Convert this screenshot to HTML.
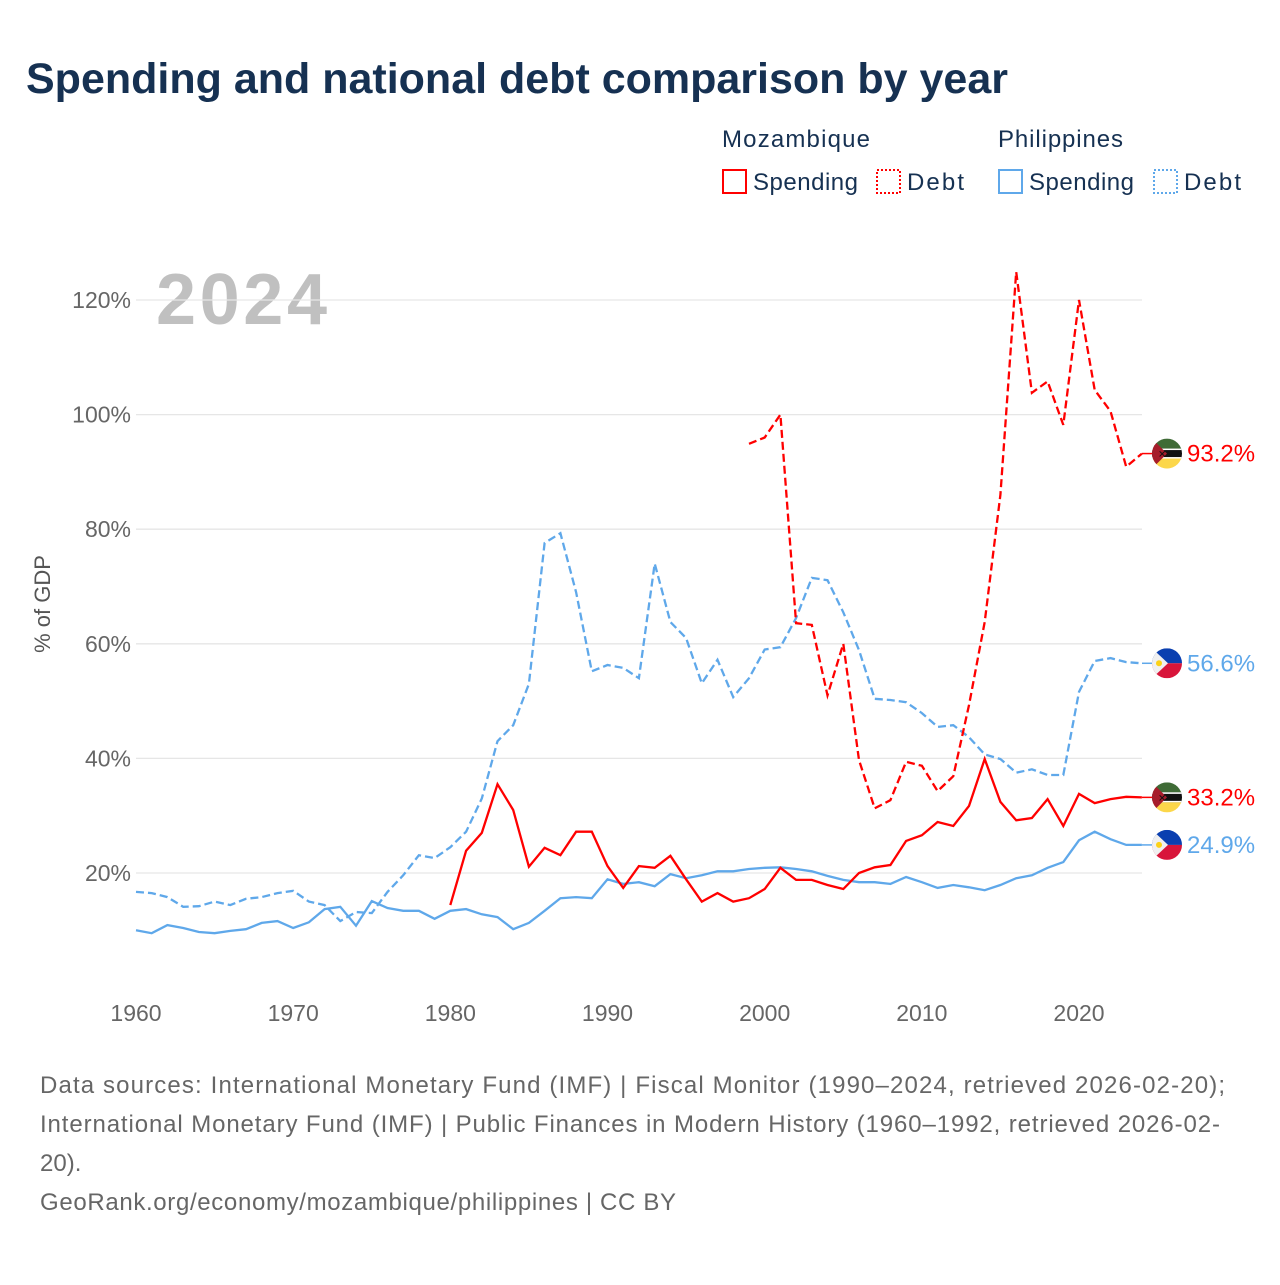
<!DOCTYPE html>
<html><head><meta charset="utf-8"><style>
body{margin:0;background:#fff;width:1280px;height:1280px;overflow:hidden;font-family:"Liberation Sans",sans-serif}
</style></head><body>
<svg id="chart" width="1280" height="1280" xmlns="http://www.w3.org/2000/svg" font-family="Liberation Sans, sans-serif">
<text x="26" y="93" font-size="43" font-weight="bold" fill="#163152">Spending and national debt comparison by year</text>
<g font-size="24" fill="#163152">
<text x="722" y="147" textLength="148">Mozambique</text>
<text x="998" y="147" textLength="125">Philippines</text>
<g><rect x="723" y="170" width="23" height="23" fill="none" stroke="#ff0000" stroke-width="2"/><text x="753" y="190" textLength="105">Spending</text></g>
<g><rect x="877" y="170" width="23" height="23" fill="none" stroke="#ff0000" stroke-width="2" stroke-dasharray="2,2"/><text x="907" y="190" textLength="57">Debt</text></g>
<g><rect x="999" y="170" width="23" height="23" fill="none" stroke="#5fa8ea" stroke-width="2"/><text x="1029" y="190" textLength="105">Spending</text></g>
<g><rect x="1154" y="170" width="23" height="23" fill="none" stroke="#5fa8ea" stroke-width="2" stroke-dasharray="2,2"/><text x="1184" y="190" textLength="57">Debt</text></g>
</g>
<text x="156" y="324" font-size="72" font-weight="bold" fill="#c0c0c0" textLength="171">2024</text>
<g id="grid"></g><g id="yticks"></g><g id="xticks"></g><g id="lines"></g><g id="ends"></g>
<text transform="translate(50,604) rotate(-90)" text-anchor="middle" font-size="22" fill="#555">% of GDP</text>
<g font-size="24" fill="#666">
<text x="40" y="1093" textLength="1185">Data sources: International Monetary Fund (IMF) | Fiscal Monitor (1990–2024, retrieved 2026-02-20);</text>
<text x="40" y="1132" textLength="1180">International Monetary Fund (IMF) | Public Finances in Modern History (1960–1992, retrieved 2026-02-</text>
<text x="40" y="1171">20).</text>
<text x="40" y="1210" textLength="636">GeoRank.org/economy/mozambique/philippines | CC BY</text>
</g>
</svg>
<script>
const phDebtStart=1960;
const phDebt=[16.7,16.5,15.8,14.1,14.2,15,14.4,15.5,15.8,16.5,16.9,15,14.4,11.6,13.2,13,16.7,19.6,23.1,22.6,24.5,27.2,33,43,45.8,53,77.6,79.3,69,55.2,56.3,55.8,54,74,63.8,61,53.1,57.2,50.7,54,59,59.4,64.5,71.5,71.1,65.5,58.9,50.4,50.2,49.8,47.9,45.5,45.8,43.7,40.7,39.9,37.5,38.1,37.1,37.1,51.6,57,57.5,56.8,56.6];
const phSpendStart=1960;
const phSpend=[10,9.5,10.9,10.4,9.7,9.5,9.9,10.2,11.3,11.6,10.4,11.4,13.7,14.1,10.8,15.1,13.9,13.4,13.4,12,13.4,13.7,12.8,12.3,10.2,11.3,13.4,15.6,15.8,15.6,18.9,18.1,18.4,17.7,19.8,19.1,19.6,20.3,20.3,20.7,20.9,21,20.7,20.3,19.5,18.8,18.4,18.4,18.1,19.3,18.4,17.4,17.9,17.5,17,17.9,19.1,19.6,20.9,21.9,25.7,27.2,25.9,24.9,24.9];
const mzSpendStart=1980;
const mzSpend=[14.4,23.9,27,35.5,31,21.1,24.4,23.1,27.2,27.2,21.2,17.4,21.2,20.9,23,18.9,15,16.5,15,15.6,17.2,20.9,18.8,18.8,17.9,17.2,20,21,21.4,25.6,26.6,28.9,28.2,31.7,39.9,32.4,29.2,29.6,32.9,28.2,33.8,32.2,32.9,33.3,33.2];
const mzDebtStart=1999;
const mzDebt=[94.9,96,100,63.6,63.3,51,60,39.7,31.3,32.7,39.4,38.7,34.3,36.9,49.3,63.8,86,124.9,103.8,105.8,98.2,120,104.3,100.6,90.9,93.2];
const yTicks=[20,40,60,80,100,120];
const xTicks=[1960,1970,1980,1990,2000,2010,2020];
const NS='http://www.w3.org/2000/svg';
const X=y=>136+(y-1960)*15.717;
const Y=v=>987.6-v*5.73;
function mk(tag,attrs,parent){const e=document.createElementNS(NS,tag);for(const k in attrs)e.setAttribute(k,attrs[k]);document.getElementById(parent).appendChild(e);return e;}
yTicks.forEach(t=>{
 const l=mk('line',{x1:136,x2:1142,y1:Y(t),y2:Y(t),stroke:'#e6e6e6','stroke-width':1.3},'grid');
 
 
 const tx=mk('text',{x:131,y:Y(t)+8,'text-anchor':'end','font-size':23,fill:'#666'},'yticks');
 tx.textContent=t+'%';
 
 
});
xTicks.forEach(t=>{
 const tx=mk('text',{x:X(t),y:1021,'text-anchor':'middle','font-size':23,fill:'#666'},'xticks');
 tx.textContent=t;
 
 
});
function series(arr,start,color,dash,name){
 const pts=arr.map((v,i)=>X(start+i).toFixed(1)+','+Y(v).toFixed(1)).join(' ');
 const p=mk('polyline',{points:pts,fill:'none',stroke:color,'stroke-width':2.3,'stroke-linejoin':'miter'},'lines');
 if(dash)p.setAttribute('stroke-dasharray','8,4');
 
 
}
series(phSpend,phSpendStart,'#5fa8ea',false,'line-philippines-spending');
series(phDebt,phDebtStart,'#5fa8ea',true,'line-philippines-debt');
series(mzSpend,mzSpendStart,'#ff0000',false,'line-mozambique-spending');
series(mzDebt,mzDebtStart,'#ff0000',true,'line-mozambique-debt');
function flag(cy,country,val,color,name){
 const g=mk('g',{},'ends');
 
 
 const cx=1167,r=15;
 const id='clip'+name;
 g.innerHTML=`<line x1="1142" x2="1152" y1="${cy}" y2="${cy}" stroke="${color}" stroke-width="1.5"/>
 <clipPath id="${id}"><circle cx="${cx}" cy="${cy}" r="${r}"/></clipPath>`+
 (country==='mz'?
 `<g clip-path="url(#${id})"><rect x="${cx-r}" y="${cy-r}" width="30" height="10" fill="#3f6b36"/><rect x="${cx-r}" y="${cy-5}" width="30" height="10" fill="#111"/><rect x="${cx-r}" y="${cy-5}" width="30" height="1.5" fill="#fff"/><rect x="${cx-r}" y="${cy+3.5}" width="30" height="1.5" fill="#fff"/><rect x="${cx-r}" y="${cy+5}" width="30" height="10" fill="#fcd74a"/><polygon points="${cx-r},${cy-r} ${cx},${cy} ${cx-r},${cy+r}" fill="#a61d2b"/><text x="${cx-9}" y="${cy+4}" font-size="10" fill="#111">✕</text></g>`
 :
 `<g clip-path="url(#${id})"><rect x="${cx-r}" y="${cy-r}" width="30" height="15" fill="#0a3fb0"/><rect x="${cx-r}" y="${cy}" width="30" height="15" fill="#d8153a"/><polygon points="${cx-r},${cy-r} ${cx+1},${cy} ${cx-r},${cy+r}" fill="#f0f0f0"/><circle cx="${cx-8}" cy="${cy}" r="3" fill="#fcd116"/></g>`)+
 `<text x="1187" y="${cy+8}" font-size="24" fill="${color}">${val}</text>`;
}
flag(Y(mzDebt[mzDebt.length-1]),'mz',mzDebt[mzDebt.length-1].toFixed(1)+'%','#ff0000','end-label-mozambique-debt');
flag(Y(phDebt[phDebt.length-1]),'ph',phDebt[phDebt.length-1].toFixed(1)+'%','#5fa8ea','end-label-philippines-debt');
flag(Y(mzSpend[mzSpend.length-1]),'mz',mzSpend[mzSpend.length-1].toFixed(1)+'%','#ff0000','end-label-mozambique-spending');
flag(Y(phSpend[phSpend.length-1]),'ph',phSpend[phSpend.length-1].toFixed(1)+'%','#5fa8ea','end-label-philippines-spending');
</script>
</body></html>
